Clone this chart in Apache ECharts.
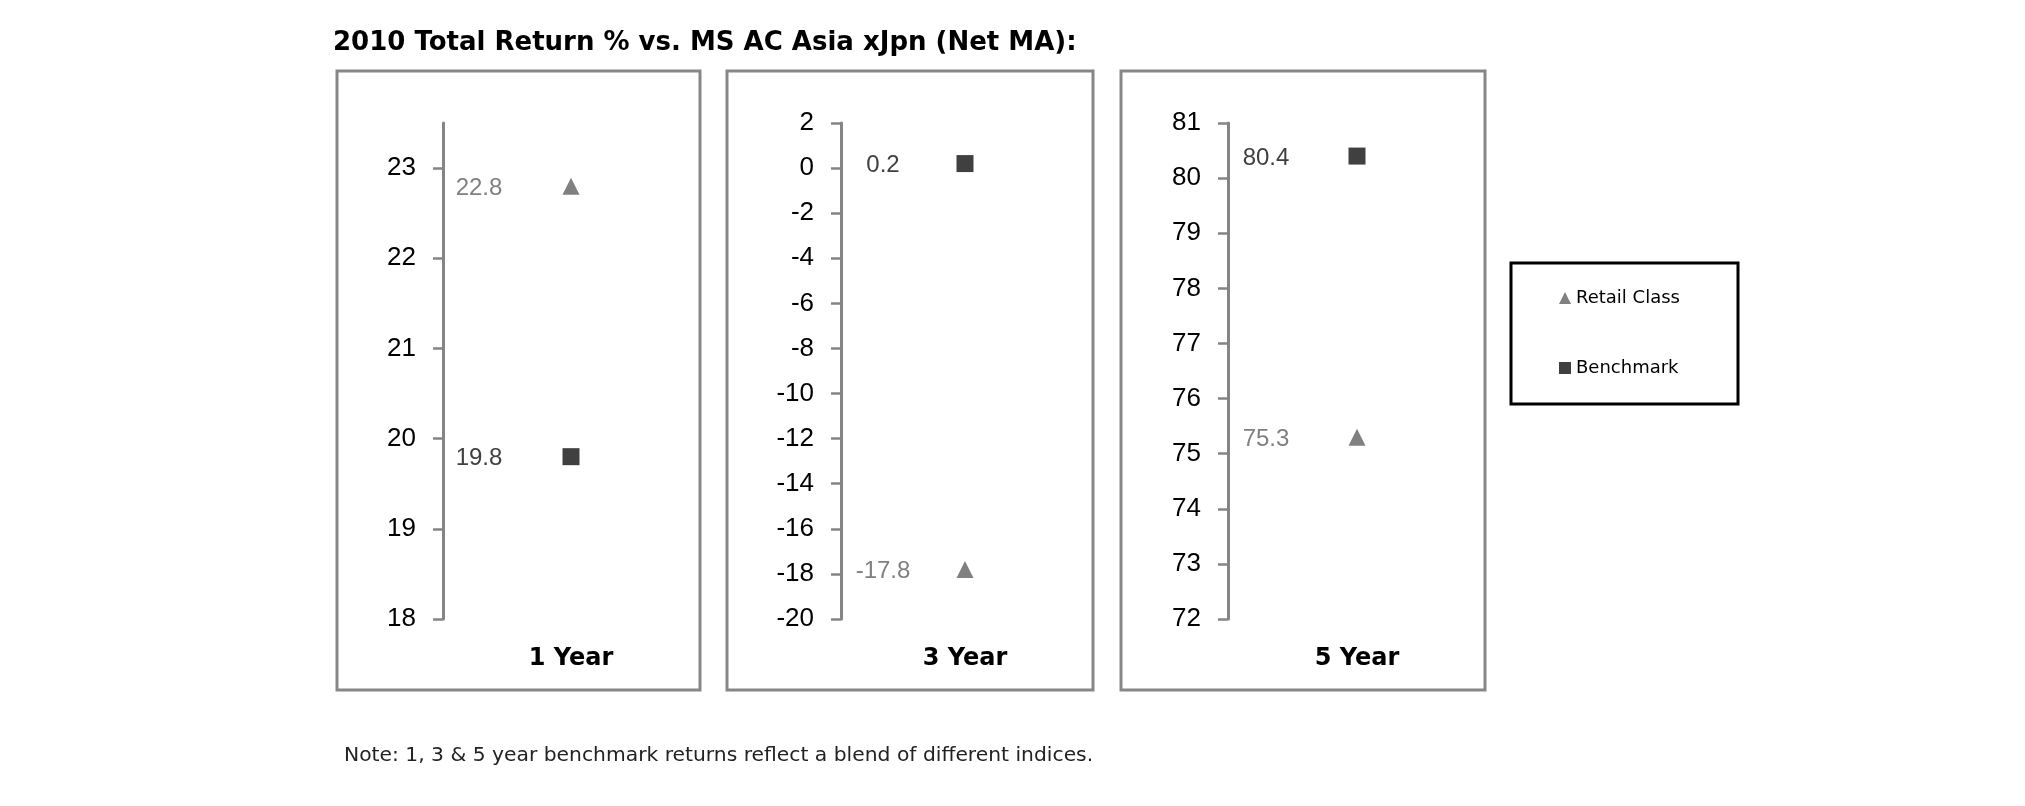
<!DOCTYPE html>
<html>
<head>
<meta charset="utf-8">
<script src="https://cdn.jsdelivr.net/npm/echarts@6/dist/echarts.min.js"></script>
<style>
html,body{margin:0;padding:0;background:#fff;}
#chart{width:2025px;height:806px;}
</style>
</head>
<body>
<div id="chart"></div>
<script>
// ---- data ----
const titleText = '2010 Total Return % vs. MS AC Asia xJpn (Net MA):';
const noteText = 'Note: 1, 3 & 5 year benchmark returns reflect a blend of different indices.';
const categories = ['1 Year', '3 Year', '5 Year'];
const seriesNames = ['Retail Class', 'Benchmark'];
const retailClass = [22.8, -17.8, 75.3];
const benchmark = [19.8, 0.2, 80.4];
const axisMin = [18, -20, 72];
const axisMax = [23.5, 2, 81];
const tickValues1 = [18, 19, 20, 21, 22, 23];
const tickValues3 = [-20, -18, -16, -14, -12, -10, -8, -6, -4, -2, 0, 2];
const tickValues5 = [72, 73, 74, 75, 76, 77, 78, 79, 80, 81];
const tickValues = [tickValues1, tickValues3, tickValues5];

// ---- layout / style ----
const gridLeft = [443, 841, 1228];
const gridWidth = [256, 248, 258];
const gridTop = 123, gridHeight = 496;
const panelBox = [[337, 727, 1121], [363, 366, 364]]; // x, widths
const labelOffset = [-92, -82, -91];
const retailColor = '#808080', benchColor = '#404040', axisColor = '#858585';

const chart = echarts.init(document.getElementById('chart'), null, {renderer: 'canvas'});

const grids = [], xAxes = [], yAxes = [], series = [], graphics = [];
for (let i = 0; i < 3; i++) {
  grids.push({left: gridLeft[i], top: gridTop, width: gridWidth[i], height: gridHeight, containLabel: false});
  xAxes.push({
    type: 'category', gridIndex: i, data: [categories[i]],
    axisLine: {show: false}, axisTick: {show: false}, splitLine: {show: false},
    axisLabel: {show: true, margin: 28, color: '#000', fontFamily: 'DejaVu Sans', fontWeight: 'bold', fontSize: 24}
  });
  yAxes.push({
    type: 'value', gridIndex: i, min: axisMin[i], max: axisMax[i],
    axisLine: {show: true, lineStyle: {color: axisColor, width: 3}},
    axisTick: {show: true, inside: false, length: 10, lineStyle: {color: axisColor, width: 2.5}, customValues: tickValues[i]},
    axisLabel: {show: true, margin: 27, color: '#000', fontFamily: 'Liberation Sans', fontSize: 26, customValues: tickValues[i]},
    splitLine: {show: false}
  });
  const mk = (name, val, symbol, color) => ({
    name: name, type: 'scatter', xAxisIndex: i, yAxisIndex: i,
    symbol: symbol, symbolSize: 17,
    itemStyle: {color: color, opacity: 1},
    data: [val],
    label: {
      show: true, position: 'inside', offset: [labelOffset[i], 2],
      color: color, fontFamily: 'Liberation Sans', fontSize: 24,
      formatter: p => Number(p.value).toFixed(1)
    },
    emphasis: {disabled: true}
  });
  series.push(mk(seriesNames[0], retailClass[i], 'triangle', retailColor));
  series.push(mk(seriesNames[1], benchmark[i], 'rect', benchColor));
  graphics.push({
    type: 'rect', silent: true,
    shape: {x: panelBox[0][i], y: 71, width: panelBox[1][i], height: 619},
    style: {fill: 'none', stroke: '#878787', lineWidth: 3}
  });
}
graphics.push({
  type: 'rect', silent: true,
  shape: {x: 1511, y: 263, width: 227, height: 141},
  style: {fill: 'none', stroke: '#000', lineWidth: 3}
});
graphics.push({
  type: 'text', silent: true, left: 344, top: 746,
  style: {text: noteText, fill: '#222', font: '20.3px "DejaVu Sans"'}
});

const option = {
  backgroundColor: '#fff',
  animation: false,
  title: {
    text: titleText, left: 333, top: 30, padding: 0,
    textStyle: {fontFamily: 'DejaVu Sans', fontWeight: 'bold', fontSize: 26, color: '#000'}
  },
  legend: {
    data: seriesNames, orient: 'vertical', left: 1559, top: 289,
    itemWidth: 12, itemHeight: 12, itemGap: 52, padding: 0,
    itemStyle: {opacity: 1},
    textStyle: {fontFamily: 'DejaVu Sans', fontSize: 18, color: '#000'},
    selectedMode: false
  },
  grid: grids, xAxis: xAxes, yAxis: yAxes, series: series,
  graphic: graphics
};
chart.setOption(option);
</script>
</body>
</html>
